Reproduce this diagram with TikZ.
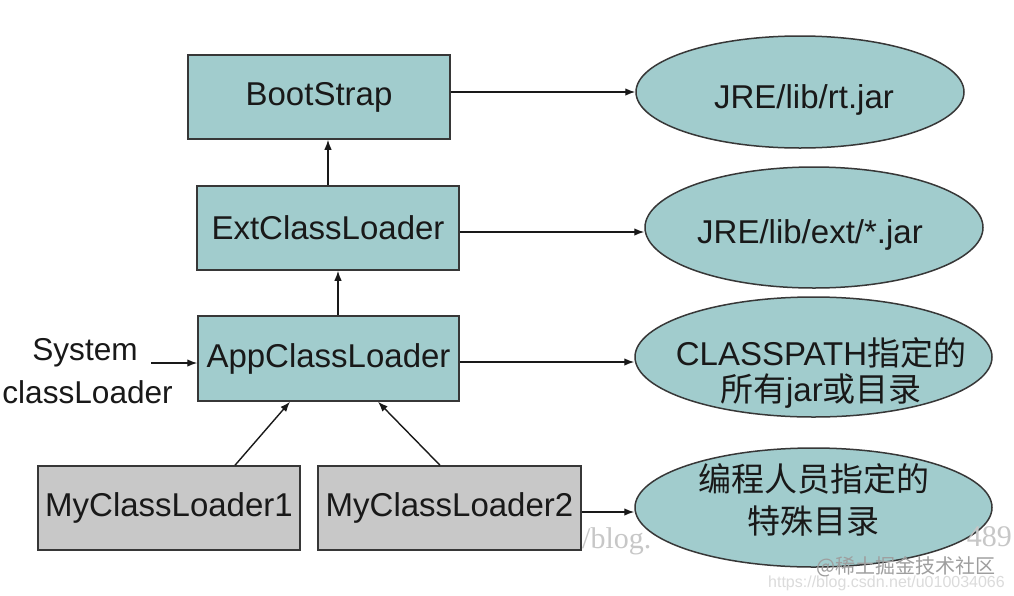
\documentclass[tikz,border=0pt]{standalone}
\usepackage{fontspec}
\setmainfont{Liberation Sans}
\newfontfamily\cjk{Noto Sans CJK SC}
\newfontfamily\wmserif{Liberation Serif}
\usetikzlibrary{shapes.geometric,arrows.meta}
\definecolor{tealfill}{RGB}{161,204,205}
\definecolor{grayfill}{RGB}{200,200,200}
\definecolor{bordercol}{RGB}{55,55,55}
\definecolor{textcol}{RGB}{25,25,25}
\tikzset{
  box/.style={draw=bordercol, line width=1.5pt, inner sep=0pt, text=textcol,
    font=\fontsize{33}{40}\selectfont},
  tealbox/.style={box, fill=tealfill},
  graybox/.style={box, fill=grayfill},
  oval/.style={ellipse, draw=bordercol, line width=1.5pt, fill=tealfill, inner sep=0pt},
  lbl/.style={inner sep=0pt, text=textcol, font=\fontsize{33}{40}\selectfont, anchor=base},
  conn/.style={draw=textcol, line width=1.4pt, -{Latex[length=10pt,width=7.5pt]}},
  wm/.style={inner sep=0pt, anchor=base}
}
\begin{document}
\begin{tikzpicture}[x=1pt,y=-1pt]
\useasboundingbox (0,0) rectangle (1014,595);
\fill[white] (0,0) rectangle (1014,595);

% boxes
\node[tealbox, minimum width=262pt, minimum height=84pt] (boot) at (319,97) {BootStrap};
\node[tealbox, minimum width=262pt, minimum height=84pt] (ext) at (328,228) {ExtClassLoader};
\node[tealbox, minimum width=261pt, minimum height=85pt] (app) at (328.5,358.5) {AppClassLoader};
\node[graybox, minimum width=262pt, minimum height=84pt] (my1) at (169,508) {MyClassLoader1};
\node[graybox, minimum width=263pt, minimum height=84pt] (my2) at (449.5,508) {MyClassLoader2};

% ellipses
\node[oval, minimum width=328pt, minimum height=112pt] (e1) at (800,92) {};
\node[oval, minimum width=338pt, minimum height=121pt] (e2) at (814,227.5) {};
\node[oval, minimum width=357pt, minimum height=120pt] (e3) at (813.5,357) {};
\node[oval, minimum width=357pt, minimum height=119pt] (e4) at (813.5,507.5) {};

% ellipse texts
\node[lbl] (t1) at (804,108) {JRE/lib/rt.jar};
\node[lbl] (t2) at (810,243) {JRE/lib/ext/*.jar};
\node[lbl] (t3a) at (821,365) {CLASSPATH{\cjk 指定的}};
\node[lbl] (t3b) at (821,401) {{\cjk 所有}jar{\cjk 或目录}};
\node[lbl] (t4a) at (813.5,491) {\cjk 编程人员指定的};
\node[lbl] (t4b) at (813,533) {\cjk 特殊目录};

% System classLoader label
\node[lbl, font=\fontsize{31.6}{40}\selectfont] (sys1) at (85,360) {System};
\node[lbl, font=\fontsize{31.6}{40}\selectfont, anchor=base east] (sys2) at (173,403) {classLoader};
\coordinate (sysarr) at (151,363);

% connectors
\draw[conn] (ext.north) -- (ext.north |- boot.south);
\draw[conn] ([xshift=9.5pt]app.north) -- ([xshift=9.5pt]app.north |- ext.south);
\draw[conn] ([xshift=66pt]my1.north) -- ([xshift=-38.5pt]app.south);
\draw[conn] ([xshift=-9.5pt]my2.north) -- ([xshift=49.5pt]app.south);
\draw[conn] (sysarr) -- (app.west |- sysarr);
\draw[conn] ([yshift=5pt]boot.east) -- (e1.west);
\draw[conn] ([yshift=-4pt]ext.east) -- ([yshift=-4.5pt]e2.west);
\draw[conn] ([yshift=-3.5pt]app.east) -- ([yshift=-5pt]e3.west);
\draw[conn] ([yshift=-4pt]my2.east) -- ([yshift=-4.5pt]e4.west);

% watermarks
\node[wm, text=black!22, font=\wmserif\fontsize{30}{30}\selectfont, anchor=base west] (wm1) at (582,548) {/blog.};
\node[wm, text=black!22, font=\wmserif\fontsize{30}{30}\selectfont, anchor=base east] (wm2) at (1012,546) {489};
\node[wm, text=black!14, font=\fontsize{16}{16}\selectfont, anchor=base east] (wm3) at (1005,587) {https://blog.csdn.net/u010034066};
\node[wm, text=black!38, font=\cjk\fontsize{20}{20}\selectfont, anchor=base east] (wm4) at (996,573) {@稀土掘金技术社区};
\end{tikzpicture}
\end{document}
